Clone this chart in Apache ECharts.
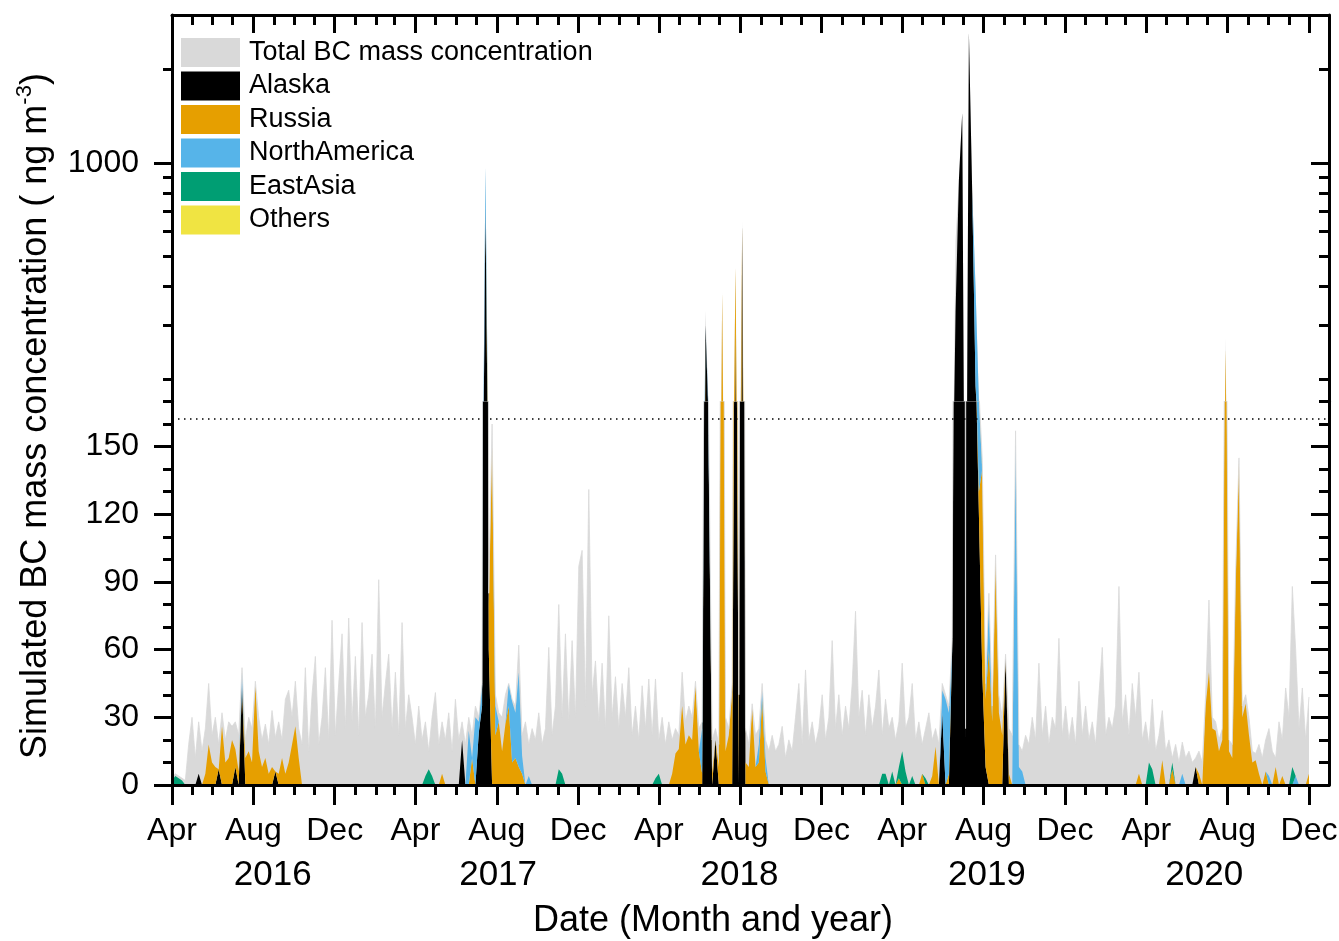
<!DOCTYPE html>
<html>
<head>
<meta charset="utf-8">
<script src="https://cdn.jsdelivr.net/npm/echarts@6/dist/echarts.min.js"></script>
<style>html,body{margin:0;padding:0;background:#fff}#chart{width:1339px;height:941px}</style>
</head>
<body>
<div id="chart"></div>
<script>
// ---------------- data ----------------
const START_DATE = '2016-04-01';
const STEP_DAYS = 5;
const AXIS_END = '2020-12-31';

// Total BC mass concentration (ng m-3), one value every 5 days from START_DATE
const totalBC = [
  3,5,4,3,2,18,30,12,28,15,
  25,45,22,30,18,32,20,28,26,28,
  22,52,20,30,25,46,30,20,27,18,
  33,21,28,20,38,42,30,46,25,18,
  52,15,40,57,18,30,52,20,73,22,
  45,67,25,74,28,57,22,72,30,40,
  58,25,91,30,45,58,25,50,22,72,
  25,40,30,18,35,20,28,15,30,41,
  18,28,20,32,15,38,20,28,18,30,
  22,35,30,45,975,85,160,40,32,30,
  40,45,38,35,62,22,28,18,25,20,
  32,18,25,61,22,35,80,30,67,28,
  64,30,97,104,35,131,40,55,28,54,
  25,75,30,48,25,45,30,52,22,35,
  20,44,25,47,22,47,20,30,18,28,
  20,25,22,50,28,35,30,46,25,28,
  335,155,20,25,18,385,30,25,45,465,
  40,655,25,18,36,22,25,45,20,15,
  22,15,18,26,12,20,15,30,45,18,
  51,20,28,18,25,40,20,30,64,25,
  40,22,35,25,45,77,30,42,22,40,
  25,35,51,22,38,25,30,20,28,54,
  25,30,45,20,28,18,25,32,20,25,
  18,45,40,35,65,560,890,1460,25,2650,
  810,400,175,145,45,85,35,102,40,30,
  58,25,22,157,18,15,22,18,30,20,
  54,22,35,18,30,25,65,22,35,20,
  30,18,46,22,35,20,28,18,40,61,
  22,30,25,35,88,28,40,22,45,30,
  50,20,28,18,38,15,22,33,15,20,
  12,18,10,19,12,15,10,12,15,10,
  40,82,30,28,20,25,275,20,18,95,
  145,35,40,30,15,14,18,12,20,25,
  15,12,28,20,43,30,88,60,25,43,20,39
];

// Source contributions: [date, value] (zero on dates not listed)
const alaska = [
  ['2016-05-11',5],['2016-06-10',7],['2016-07-05',8],['2016-07-15',44],['2016-09-03',6],
  ['2017-06-10',20],['2017-07-05',23],['2017-07-10',35],['2017-07-15',720],['2017-07-20',60],
  ['2018-06-10',300],['2018-06-15',140],['2018-06-25',20],['2018-07-25',300],['2018-08-04',640],
  ['2019-05-31',32],['2019-06-15',61],['2019-06-20',330],['2019-06-25',880],['2019-06-30',1450],
  ['2019-07-05',15],['2019-07-10',2640],['2019-07-15',800],['2019-07-20',190],['2019-07-25',120],
  ['2019-07-30',50],['2019-08-04',8],['2019-09-03',57],
  ['2020-06-14',8]
];
const russia = [
  ['2016-05-21',5],['2016-05-26',18],['2016-05-31',10],['2016-06-05',8],['2016-06-15',26],
  ['2016-06-20',10],['2016-06-25',12],['2016-06-30',20],['2016-07-05',8],['2016-07-10',6],
  ['2016-07-20',12],['2016-07-25',15],['2016-07-30',10],['2016-08-04',44],['2016-08-09',15],
  ['2016-08-14',8],['2016-08-19',12],['2016-08-24',5],['2016-08-29',8],['2016-09-08',5],
  ['2016-09-13',12],['2016-09-18',5],['2016-09-23',10],['2016-09-28',18],['2016-10-03',26],
  ['2016-10-08',12],
  ['2017-05-11',5],['2017-06-25',12],['2017-07-20',20],['2017-07-25',150],['2017-07-30',22],
  ['2017-08-04',28],['2017-08-09',15],['2017-08-14',27],['2017-08-19',35],['2017-08-24',10],
  ['2017-08-29',12],['2017-09-03',8],['2017-09-08',5],
  ['2018-04-21',5],['2018-04-26',14],['2018-05-01',16],['2018-05-06',35],['2018-05-11',18],
  ['2018-05-16',22],['2018-05-21',20],['2018-05-26',44],['2018-05-31',15],['2018-06-05',5],
  ['2018-06-20',5],['2018-06-30',8],['2018-07-05',380],['2018-07-10',15],['2018-07-15',22],
  ['2018-07-20',41],['2018-07-25',160],['2018-07-30',20],['2018-08-09',10],['2018-08-14',8],
  ['2018-08-19',34],['2018-08-24',8],['2018-08-29',10],['2018-09-03',38],['2018-09-08',6],
  ['2019-03-27',3],['2019-05-01',5],['2019-05-16',4],['2019-05-21',17],['2019-06-10',5],
  ['2019-07-25',10],['2019-07-30',90],['2019-08-04',30],['2019-08-09',60],['2019-08-14',28],
  ['2019-08-19',100],['2019-08-24',32],['2019-08-29',22],['2019-09-08',5],
  ['2020-03-21',5],['2020-04-25',11],['2020-05-10',7],['2020-06-19',5],['2020-06-29',35],
  ['2020-07-04',50],['2020-07-09',25],['2020-07-14',24],['2020-07-19',15],['2020-07-24',20],
  ['2020-07-29',250],['2020-08-03',15],['2020-08-08',12],['2020-08-13',90],['2020-08-18',143],
  ['2020-08-23',30],['2020-08-28',36],['2020-09-02',22],['2020-09-07',10],['2020-09-12',11],
  ['2020-09-17',5],['2020-09-27',6],['2020-10-12',8],['2020-10-22',4],['2020-12-01',5]
];
const northAmerica = [
  ['2016-07-15',6],
  ['2017-06-20',24],['2017-06-30',30],['2017-07-05',5],['2017-07-10',10],['2017-07-15',250],
  ['2017-07-30',13],['2017-08-19',10],['2017-08-24',27],['2017-08-29',20],['2017-09-03',42],
  ['2017-09-08',8],['2017-09-18',4],
  ['2018-06-05',20],['2018-06-15',10],['2018-08-29',8],['2018-09-03',4],['2018-09-08',6],
  ['2019-05-31',10],['2019-06-05',38],['2019-06-10',27],['2019-07-20',200],['2019-07-25',40],
  ['2019-08-09',22],['2019-09-18',155],['2019-09-23',8],['2019-09-28',6],
  ['2020-05-25',5],['2020-10-02',4],['2020-11-11',4]
];
const eastAsia = [
  ['2016-04-01',2],['2016-04-06',4],['2016-04-11',3],['2016-04-16',2],
  ['2017-04-16',4],['2017-04-21',7],['2017-04-26',4],['2017-11-02',7],['2017-11-07',5],
  ['2018-03-27',3],['2018-04-01',5],
  ['2019-03-02',5],['2019-03-07',5],['2019-03-17',6],['2019-03-27',5],['2019-04-01',15],
  ['2019-04-06',6],['2019-04-16',4],['2019-05-06',3],
  ['2020-04-05',10],['2020-04-10',7],['2020-05-10',3],['2020-11-06',8]
];
const others = [['2018-07-05',2],['2019-07-30',1],['2020-07-29',2]];

// axis ticks / labels
const monthTickDates = ['2016-04-01','2016-08-01','2016-12-01','2017-04-01','2017-08-01','2017-12-01',
  '2018-04-01','2018-08-01','2018-12-01','2019-04-01','2019-08-01','2019-12-01','2020-04-01','2020-08-01','2020-12-01'];
const monthTickLabels = ['Apr','Aug','Dec','Apr','Aug','Dec','Apr','Aug','Dec','Apr','Aug','Dec','Apr','Aug','Dec'];
const yearLabelDates = ['2016-08-30','2017-08-03','2018-07-31','2019-08-06','2020-06-27'];
const yearLabels = ['2016','2017','2018','2019','2020'];
const yMajorTicks = [0,30,60,90,120,150];
const yMinorTicks = [10,20,40,50,70,80,100,110,130,140,160,170];
const logMajorTicks = [1000];
const logMinorTicks = [200,300,400,500,600,700,800,900,2000];
const BREAK_VALUE = 170;
const LOG_MAX = 3000;
const REF_LINE = 162.5;

const legendNames = ['Total BC mass concentration','Alaska','Russia','NorthAmerica','EastAsia','Others'];
const seriesColors = ['#d9d9d9','#000000','#E69F00','#56B4E9','#009E73','#F0E442'];

// ---------------- build ----------------
const DAY = 86400000;
function ts(s){ const p = s.split('-').map(Number); return Date.UTC(p[0], p[1]-1, p[2]); }
const T0 = ts(START_DATE);
const T_END = ts(AXIS_END);
function dayOf(s){ return Math.round((ts(s) - T0) / DAY); }
const N = totalBC.length;
const xs = totalBC.map((_, i) => T0 + i * STEP_DAYS * DAY);
function expand(list){
  const a = new Array(N).fill(0);
  list.forEach(([d, v]) => { const k = Math.round(dayOf(d) / STEP_DAYS); if (k >= 0 && k < N) a[k] += v; });
  return a;
}
const regionValues = [alaska, russia, northAmerica, eastAsia, others].map(expand);
const allValues = [totalBC].concat(regionValues);

// tick axes run in "days since START_DATE" and overlay the time axes used by the series
const X_MAX = dayOf(AXIS_END);
const monthTickDays = monthTickDates.map(dayOf);
const yearDays = yearLabelDates.map(dayOf);
const monthlyDays = [];
for (let y = 2016; y <= 2020; y++) for (let m = 0; m < 12; m++) {
  const d = Math.round((Date.UTC(y, m, 1) - T0) / DAY);
  if (d >= 0 && d <= X_MAX) monthlyDays.push(d);
}

const F = '"Liberation Sans", Arial, Helvetica, sans-serif';
const LW = 3;
const BLACK = '#000';
const LOG_FLOOR = 1; // log-axis floor for zero values (far below the visible upper panel)

function xAx(grid, pos, extra){
  return Object.assign({
    type: 'value', gridIndex: grid, position: pos, min: 0, max: X_MAX, z: 10,
    splitLine: {show: false}, axisLine: {show: false, onZero: false},
    axisTick: {show: false}, axisLabel: {show: false}
  }, extra);
}
function timeAx(grid, pos){
  return {type: 'time', gridIndex: grid, position: pos, min: T0, max: T_END, show: false,
    splitLine: {show: false}, axisLine: {show: false, onZero: false}, axisTick: {show: false}, axisLabel: {show: false}};
}
function yAx(grid, pos, type, extra){
  const base = {
    type: type, gridIndex: grid, position: pos, z: 10,
    min: type === 'log' ? BREAK_VALUE : 0, max: type === 'log' ? LOG_MAX : BREAK_VALUE,
    splitLine: {show: false}, axisLine: {show: false, onZero: false},
    axisTick: {show: false}, axisLabel: {show: false}
  };
  if (type === 'log') base.logBase = 10;
  return Object.assign(base, extra);
}
const lineOn = {show: true, onZero: false, lineStyle: {color: BLACK, width: LW}};
function tick(vals, len, inside){ return {show: true, customValues: vals, length: len, inside: !!inside, lineStyle: {color: BLACK, width: LW}}; }

const xAxis = [
  xAx(0, 'bottom', {axisLine: lineOn, axisTick: tick(monthTickDays, 20),
    axisLabel: {show: true, customValues: monthTickDays, fontSize: 32, fontFamily: F, color: BLACK, margin: 30,
      formatter: v => { const k = monthTickDays.indexOf(Math.round(v)); return k >= 0 ? monthTickLabels[k] : ''; }}}),
  xAx(0, 'bottom', {axisTick: tick(monthlyDays, 10)}),
  xAx(0, 'bottom', {axisLabel: {show: true, customValues: yearDays, fontSize: 35, fontFamily: F, color: BLACK, margin: 73,
      formatter: v => { const k = yearDays.indexOf(Math.round(v)); return k >= 0 ? yearLabels[k] : ''; }}}),
  xAx(1, 'top', {axisLine: lineOn, axisTick: tick(monthTickDays, 18, true)}),
  xAx(1, 'top', {axisTick: tick(monthlyDays, 10, true)}),
  timeAx(0, 'bottom'),
  timeAx(1, 'top')
];
const yAxis = [
  yAx(0, 'left', 'value', {axisLine: lineOn, axisTick: tick(yMajorTicks, 18),
    axisLabel: {show: true, customValues: yMajorTicks, fontSize: 32, fontFamily: F, color: BLACK, margin: 33, formatter: v => String(v)}}),
  yAx(0, 'left', 'value', {axisTick: tick(yMinorTicks, 9)}),
  yAx(0, 'right', 'value', {axisLine: lineOn, axisTick: tick(yMajorTicks, 18, true)}),
  yAx(0, 'right', 'value', {axisTick: tick(yMinorTicks, 10, true)}),
  yAx(1, 'left', 'log', {axisLine: lineOn, axisTick: tick(logMajorTicks, 18),
    axisLabel: {show: true, customValues: logMajorTicks, fontSize: 32, fontFamily: F, color: BLACK, margin: 33, formatter: v => String(Math.round(v))}}),
  yAx(1, 'left', 'log', {axisTick: tick(logMinorTicks, 9)}),
  yAx(1, 'right', 'log', {axisLine: lineOn, axisTick: tick(logMajorTicks, 18, true)}),
  yAx(1, 'right', 'log', {axisTick: tick(logMinorTicks, 10, true)})
];

const series = [];
[0, 1].forEach(g => {
  allValues.forEach((vals, s) => {
    const color = seriesColors[s];
    const data = vals.map((v, i) => [xs[i], g === 1 ? Math.max(v, LOG_FLOOR) : v]);
    const ser = {
      type: 'line', name: legendNames[s], data: data,
      xAxisIndex: g === 0 ? 5 : 6, yAxisIndex: g === 0 ? 0 : 4,
      symbol: 'none', showSymbol: false, clip: true, silent: true,
      color: color, itemStyle: {color: color},
      lineStyle: (s === 0 && g === 0) ? {width: 0.8, color: color} : {width: 0, color: color},
      areaStyle: g === 1 ? {color: color, opacity: 1, origin: LOG_FLOOR} : {color: color, opacity: 1},
      emphasis: {disabled: true}
    };
    if (s > 0) ser.stack = g === 0 ? 'low' : 'high';
    if (g === 0 && s === allValues.length - 1) {
      ser.markLine = {silent: true, symbol: 'none', label: {show: false},
        lineStyle: {color: BLACK, type: [1.5, 4.5], width: 1.5}, data: [{yAxis: REF_LINE}]};
    }
    series.push(ser);
  });
});

const chart = echarts.init(document.getElementById('chart'), null, {renderer: 'canvas'});
chart.setOption({
  animation: false,
  backgroundColor: '#fff',
  grid: [
    {left: 172, top: 401.5, width: 1157, height: 383.5, outerBoundsMode: 'none', containLabel: false},
    {left: 172, top: 15, width: 1157, height: 386.5, outerBoundsMode: 'none', containLabel: false}
  ],
  xAxis: xAxis,
  yAxis: yAxis,
  legend: {
    data: legendNames, orient: 'vertical', left: 181, top: 38, padding: 0,
    itemWidth: 59, itemHeight: 29, itemGap: 4.5, icon: 'rect',
    textStyle: {fontSize: 27, fontFamily: F, color: BLACK, padding: [0, 0, 0, 4]},
    selectedMode: false
  },
  graphic: {elements: [
    {type: 'text', x: 713, y: 921, silent: true,
      style: {text: 'Date (Month and year)', fontSize: 36, fontFamily: F, fill: BLACK, align: 'center', verticalAlign: 'middle'}},
    {type: 'text', x: 36, y: 416, rotation: Math.PI / 2, silent: true,
      style: {text: '{a|Simulated BC mass concentration ( ng m}{s|-3}{a|)}', align: 'center', verticalAlign: 'middle', fill: BLACK,
        rich: {a: {fontSize: 36, fontFamily: F, fill: BLACK, color: BLACK, lineHeight: 44},
               s: {fontSize: 22, fontFamily: F, fill: BLACK, color: BLACK, verticalAlign: 'top', lineHeight: 22}}}}
  ]},
  series: series
});
</script>
</body>
</html>
